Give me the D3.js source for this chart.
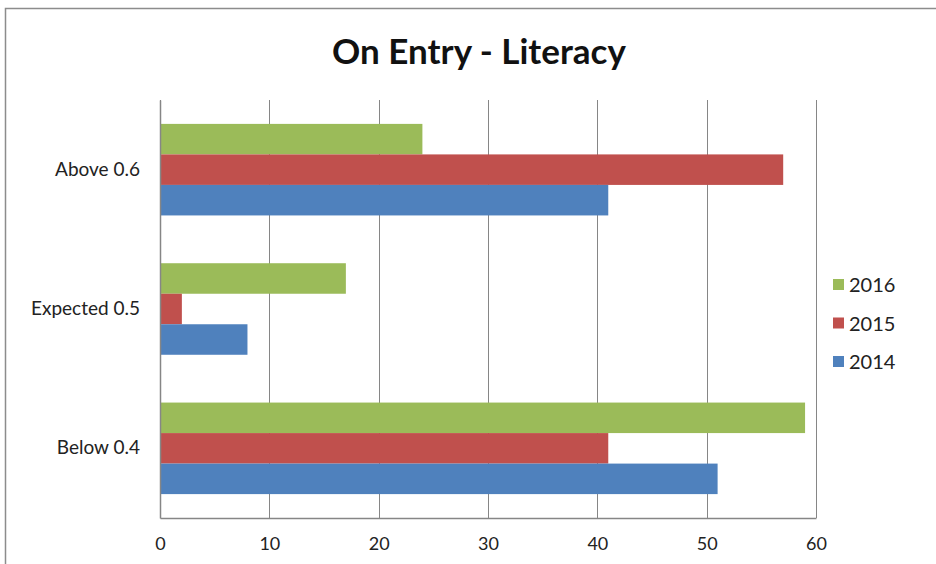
<!DOCTYPE html>
<html lang="en">
<head>
    <meta charset="UTF-8">
    <title>On Entry - Literacy</title>
    <script src="https://d3js.org/d3.v7.min.js"></script>
    <style>
        body { margin: 0; background: #fff; }
        text { font-family: Lato, "Open Sans", sans-serif; fill: #222; }
    </style>
</head>
<body>
    <div id="chart"></div>

    <script>
        // data
        const categories = ["Above 0.6", "Expected 0.5", "Below 0.4"];
        const seriesNames = ["2016", "2015", "2014"];
        const values2016 = [24, 17, 59];
        const values2015 = [57, 2, 41];
        const values2014 = [41, 8, 51];
        const xTicks = [0, 10, 20, 30, 40, 50, 60];
        const seriesColors = ["#9bbb59", "#c0504d", "#4f81bd"];

        const series = [values2016, values2015, values2014];

        const W = 936, H = 564;
        const margin = {top: 100, right: 118, bottom: 46, left: 160},
            width = W - margin.left - margin.right,
            height = H - margin.top - margin.bottom;

        const svg = d3.select("#chart")
          .append("svg")
            .attr("width", W)
            .attr("height", H);

        // outer chart frame (runs off right/bottom edge)
        svg.append("path")
            .attr("d", `M5.5,${H + 2} V8.5 H${W + 2}`)
            .attr("fill", "none")
            .attr("stroke", "#8c8c8c")
            .attr("stroke-width", 1.5);

        svg.append("text")
            .attr("x", 479)
            .attr("y", 64)
            .attr("text-anchor", "middle")
            .style("font-size", "35px")
            .style("font-weight", "bold")
            .style("fill", "#111")
            .text("On Entry - Literacy");

        const g = svg.append("g")
            .attr("transform", `translate(${margin.left},${margin.top})`);

        const x = d3.scaleLinear()
            .domain([0, 60])
            .range([0, width - 2]);

        const y0 = d3.scaleBand()
            .domain(categories)
            .range([0, height])
            .paddingInner(0.343)
            .paddingOuter(0.1715);

        const y1 = d3.scaleBand()
            .domain(seriesNames)
            .range([0, y0.bandwidth()]);

        // gridlines
        g.append("g")
            .selectAll("line")
            .data(xTicks)
            .join("line")
              .attr("x1", d => Math.round(x(d)) + 0.5)
              .attr("x2", d => Math.round(x(d)) + 0.5)
              .attr("y1", 0)
              .attr("y2", height)
              .attr("stroke", "#868686")
              .attr("stroke-width", 1);

        // bars
        categories.forEach((cat, ci) => {
            g.append("g")
                .selectAll("rect")
                .data(seriesNames.map((s, si) => ({s: s, v: series[si][ci], c: seriesColors[si]})))
                .join("rect")
                  .attr("x", x(0))
                  .attr("y", d => y0(cat) + y1(d.s))
                  .attr("width", d => x(d.v) - x(0))
                  .attr("height", y1.bandwidth())
                  .attr("fill", d => d.c);
        });

        // x axis
        const xAxis = g.append("g")
            .attr("transform", `translate(0,${height})`)
            .call(d3.axisBottom(x).tickValues(xTicks).tickSize(0).tickPadding(19));
        xAxis.select(".domain").attr("stroke", "#868686").attr("stroke-width", 1.5);
        xAxis.selectAll("text").style("font-size", "18px").style("font-family", "Lato, sans-serif");

        // y axis
        const yAxis = g.append("g")
            .call(d3.axisLeft(y0).tickSize(0).tickPadding(20));
        yAxis.select(".domain").attr("stroke", "#868686").attr("stroke-width", 1.5);
        yAxis.selectAll("text").style("font-size", "19px").style("font-family", "Lato, sans-serif");

        // legend
        const legend = svg.append("g")
            .attr("transform", "translate(833,285)");
        seriesNames.forEach((s, i) => {
            const row = legend.append("g").attr("transform", `translate(0,${i * 38.5})`);
            row.append("rect")
                .attr("x", 0).attr("y", -6)
                .attr("width", 11).attr("height", 11)
                .attr("fill", seriesColors[i]);
            row.append("text")
                .attr("x", 16).attr("y", 0)
                .attr("dy", "0.35em")
                .style("font-size", "20px")
                .text(s);
        });
    </script>
</body>
</html>
